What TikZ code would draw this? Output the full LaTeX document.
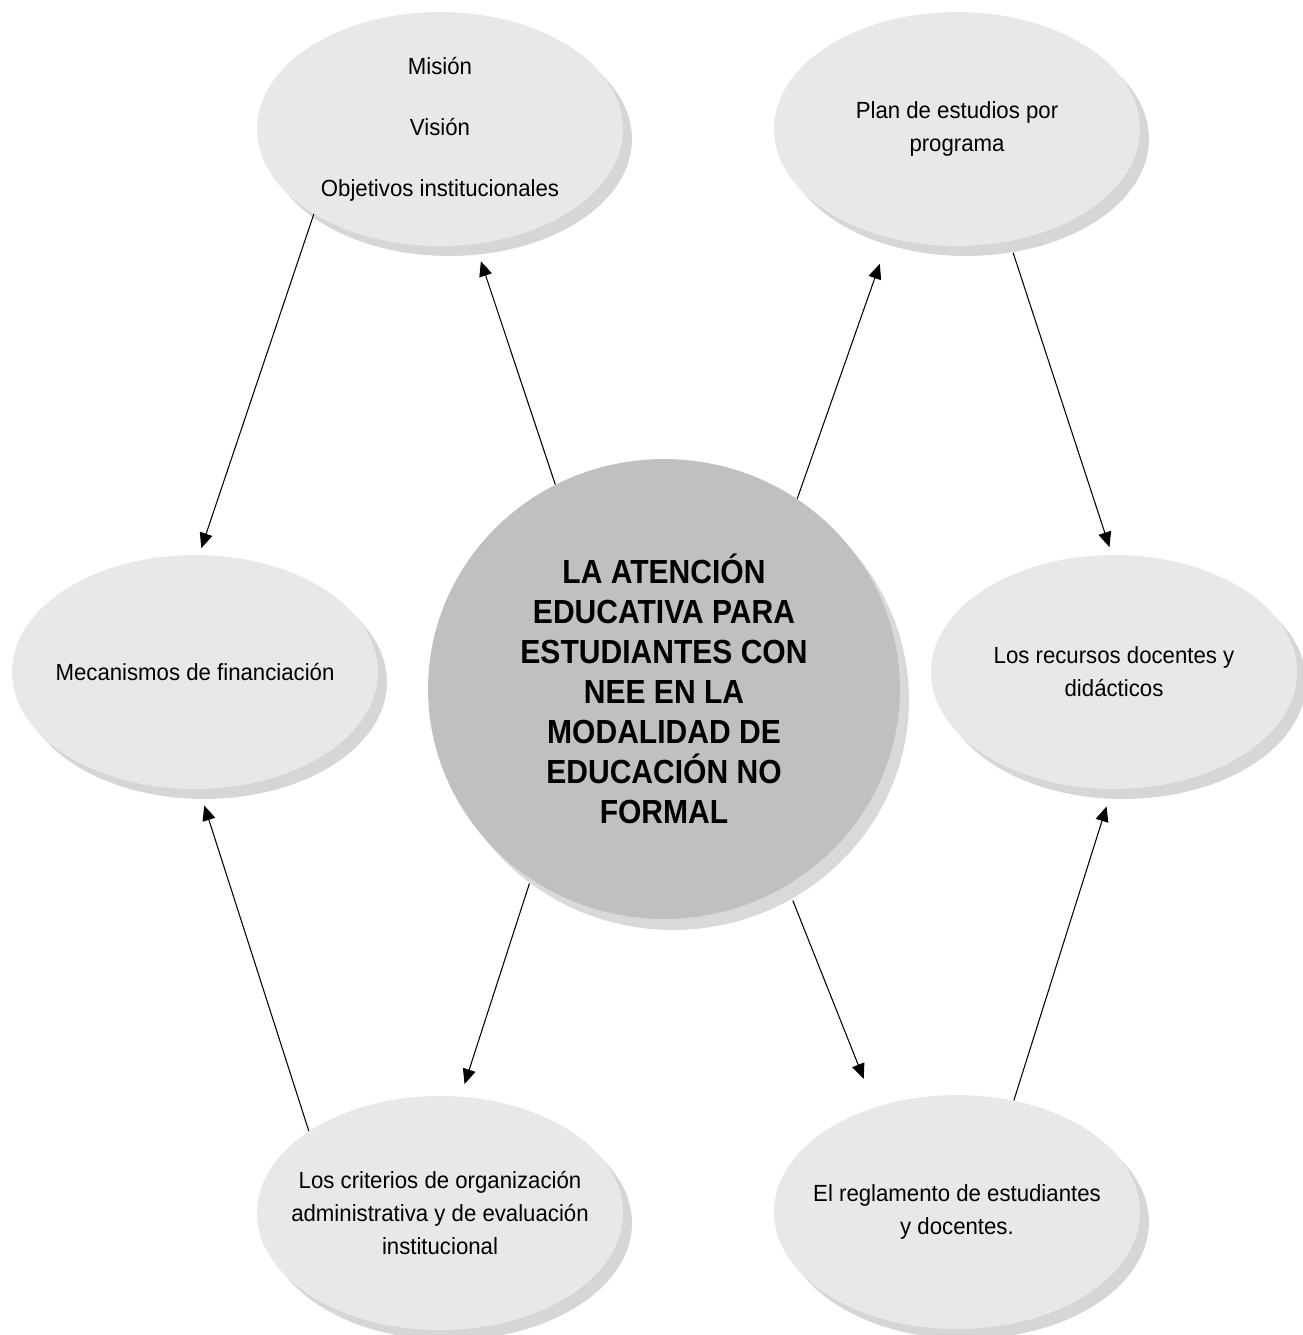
\documentclass[tikz,border=0pt]{standalone}
\usepackage{fontspec}
\setmainfont{Liberation Sans}[FakeStretch=0.95]
\newfontfamily\nucleofont{Liberation Sans}[FakeStretch=0.9]
\usetikzlibrary{shapes.geometric,shadows,arrows.meta}

\definecolor{ideagray}{HTML}{E8E8E8}
\definecolor{ideashadow}{HTML}{D6D6D6}
\definecolor{nucleogray}{HTML}{C0C0C0}
\definecolor{nucleoshadow}{HTML}{D9D9D9}

\begin{document}
\begin{tikzpicture}[x=0.02cm,y=-0.02cm,
idea/.style={ellipse,fill=ideagray,inner xsep=-0.6cm,inner ysep=0pt,
  minimum width=7.32cm,minimum height=4.68cm,align=center,
  font=\fontsize{13.3}{18.8}\selectfont,
  drop shadow={shadow xshift=0.18cm,shadow yshift=-0.2cm,fill=ideashadow,opacity=1}},
nucleo/.style={ellipse,fill=nucleogray,inner sep=0pt,
  minimum width=9.44cm,minimum height=9.2cm,align=center,
  font=\nucleofont\bfseries\fontsize{19}{22.8}\selectfont,
  drop shadow={shadow xshift=0.18cm,shadow yshift=-0.22cm,fill=nucleoshadow,opacity=1}},
flecha/.style={line width=0.6pt,-{Triangle[length=0.3cm,width=0.26cm]}}]

\useasboundingbox (0,0) rectangle (1302,1335);

% centro
\node[nucleo] (nucleo) at (664,689) {LA ATENCIÓN\\EDUCATIVA PARA\\ESTUDIANTES CON\\NEE EN LA\\MODALIDAD DE\\EDUCACIÓN NO\\FORMAL};

% alrededor
\node[idea] (mision) at (440,129) {Misión\\[1.2em]Visión\\[1.2em]Objetivos institucionales};
\node[idea] (plan) at (957,129) {Plan de estudios por\\programa};
\node[idea] (financiacion) at (195,672) {Mecanismos de financiación};
\node[idea] (recursos) at (1114,672) {Los recursos docentes y\\didácticos};
\node[idea] (criterios) at (440,1213) {Los criterios de organización\\administrativa y de evaluación\\institucional};
\node[idea] (reglamento) at (957,1212) {El reglamento de estudiantes\\y docentes.};

% flechas
\draw[flecha,shorten >=0.14cm] (mision.214) -- (financiacion.88);
\draw[flecha,shorten >=0.36cm] (nucleo.118) -- (mision.287);
\draw[flecha,shorten >=0.55cm] (nucleo.55) -- (plan.238);
\draw[flecha,shorten <=0.24cm,shorten >=0.16cm] (plan.295) -- (recursos.91);
\draw[flecha,shorten >=0.36cm] (reglamento.63) -- (recursos.269);
\draw[flecha,shorten <=0.32cm,shorten >=0.61cm] (nucleo.302) -- (reglamento.128);
\draw[flecha,shorten <=0.09cm,shorten >=0.26cm] (nucleo.235) -- (criterios.80);
\draw[flecha,shorten >=0.34cm] (criterios.148) -- (financiacion.272);

\end{tikzpicture}
\end{document}
